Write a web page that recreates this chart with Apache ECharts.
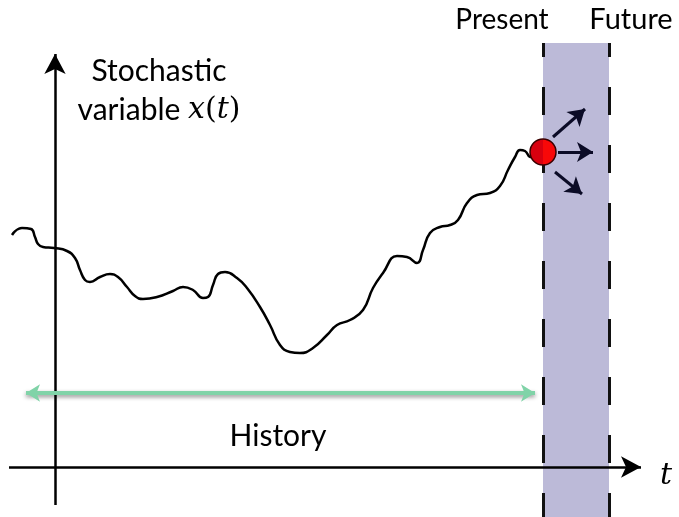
<!DOCTYPE html>
<html><head><meta charset="utf-8">
<script src="https://cdn.jsdelivr.net/npm/echarts@6/dist/echarts.min.js"></script>
<style>html,body{margin:0;padding:0;background:#fff}#c{width:679px;height:517px}</style>
</head><body><div id="c"></div>
<script>
const pathT = [-8.6,-6.6,-4.8,-4.0,-3.4,-2.4,-0.2,2.4,4,5,6,7,9,11,12.6,14.4,16,17.6,20.4,23.6,25.6,27.6,29.6,30.6,31.6,32.6,34,36.4,38.4,41,43,45,47,49,51.6,54.4,56.4,59,61.6,63.6,65.6,68.4,70.4,72.4,73.6,75,77,79,80.6,82.4,84.4,87,89,90.6,92,93,94,95,96];
// value of the stochastic variable along the path
const pathX = [46.4,47.8,47.6,46.0,44.6,44.0,43.8,43.2,41.8,39.4,37.4,37,38,38.6,38,36,34.2,33.6,34,35.2,36,35.4,33.8,34,36.4,38.6,39,37.8,35.8,32,28.4,24.4,23,22.8,23.8,26.4,28.4,29.4,31.4,35.8,38.8,42.2,42,40.8,43.4,46.8,48,48.4,49.4,52.8,54.4,54.8,56.2,59.4,62,63.4,63.2,62,61.8];
// present / future window
const presentT = 97.6;
const futureT = 110.8;
const windowTop = 84.8;
const presentX = 63;
// possible next moves (start and end of each arrow)
const fanFromT = [99.6, 100.6, 100];
const fanFromX = [66, 63, 59];
const fanToT = [106.0, 107.6, 105.4];
const fanToX = [71.6, 63, 54.6];
// history span
const historySpan = [-5.8, 96];
const historyLevel = 14.8;
// axes extents
const tAxisSpan = [-9.2, 117.2];
const xAxisSpan = [-7.6, 82.6];
// texts
const yTitle1 = 'Stochastic';
const yTitle2 = 'variable ';
const presentLabel = 'Present';
const futureLabel = 'Future';
const historyLabel = 'History';
const tLabel = 't';

const chart = echarts.init(document.getElementById('c'), null, {renderer: 'canvas'});
const curve = pathT.map((t, i) => [t, pathX[i]]);
const fans = fanFromT.map((t, i) => [{coord: [t, fanFromX[i]]}, {coord: [fanToT[i], fanToX[i]]}]);
const hidden = {type: 'line', data: [[presentT, -10]], showSymbol: false, lineStyle: {opacity: 0}, silent: true};
const ML = (o) => Object.assign({silent: true, label: {show: false}, emphasis: {disabled: true}, animation: false}, o);

const sans = 'Lato';
const option = {
  animation: false,
  grid: {left: 0, right: 0, top: 0, bottom: 0},
  xAxis: {type: 'value', min: -11, max: 124.8, show: false},
  yAxis: {type: 'value', min: -10, max: 93.4, show: false},
  series: [
    Object.assign({}, hidden, {z: 1, markArea: {silent: true, itemStyle: {color: '#bcbad8'},
      data: [[{coord: [presentT, windowTop]}, {coord: [futureT, -10]}]]}}),
    Object.assign({}, hidden, {z: 2, markLine: ML({symbol: 'none',
      lineStyle: {color: '#111', width: 3, type: [28, 30], dashOffset: 14},
      data: [[{coord: [presentT, windowTop]}, {coord: [presentT, -10]}],
             [{coord: [futureT, windowTop]}, {coord: [futureT, -10]}]]})}),
    Object.assign({}, hidden, {z: 3, markLine: ML({symbol: ['none', 'arrow'], symbolSize: [16, 20],
      lineStyle: {color: '#000', width: 2.5, type: 'solid'},
      data: [[{coord: [tAxisSpan[0], 0]}, {coord: [tAxisSpan[1], 0]}],
             [{coord: [0, xAxisSpan[0]]}, {coord: [0, xAxisSpan[1]]}]]})}),
    Object.assign({}, hidden, {z: 3, markLine: ML({symbol: ['arrow', 'arrow'], symbolSize: [13, 14],
      lineStyle: {color: '#80d3a8', width: 4, type: 'solid', shadowColor: 'rgba(0,0,0,0.45)', shadowBlur: 4, shadowOffsetY: 2},
      data: [[{coord: [historySpan[0], historyLevel]}, {coord: [historySpan[1], historyLevel]}]]})}),
    Object.assign({}, hidden, {z: 6, markLine: ML({symbol: ['none', 'arrow'], symbolSize: [15, 16],
      lineStyle: {color: '#0b0b26', width: 3, type: 'solid'},
      data: fans})}),
    {type: 'line', data: curve, smooth: 0.5, showSymbol: false, silent: true, z: 5,
      lineStyle: {color: '#000', width: 2.5}},
    {type: 'scatter', data: [[presentT, presentX]], symbolSize: 26, silent: true, z: 10,
      itemStyle: {borderColor: '#3a0000', borderWidth: 1.5, opacity: 1,
        color: {type: 'linear', x: 0, y: 0, x2: 1, y2: 0, colorStops: [
          {offset: 0, color: '#d8000f'}, {offset: 0.5, color: '#d8000f'},
          {offset: 0.5, color: '#f80808'}, {offset: 1, color: '#f80808'}]}}}
  ],
  graphic: [
    {type: 'text', style: {x: 159, y: 71, text: yTitle1, align: 'center', verticalAlign: 'middle', font: '30px ' + sans, fill: '#000'}},
    {type: 'text', style: {x: 159, y: 110, text: yTitle2 + '{i|x}{p|(}{i|t}{p|)}', align: 'center', verticalAlign: 'middle', font: '30px ' + sans, fill: '#000',
      rich: {i: {fontFamily: 'DejaVu Serif', fontStyle: 'italic', fontSize: 30, fill: '#000'}, p: {fontFamily: 'DejaVu Serif', fontSize: 30, fill: '#000'}}}},
    {type: 'text', style: {x: 502, y: 20, text: presentLabel, align: 'center', verticalAlign: 'middle', font: '28px ' + sans, fill: '#000'}},
    {type: 'text', style: {x: 631, y: 20, text: futureLabel, align: 'center', verticalAlign: 'middle', font: '29px ' + sans, fill: '#000'}},
    {type: 'text', style: {x: 278, y: 436, text: historyLabel, align: 'center', verticalAlign: 'middle', font: '30px ' + sans, fill: '#000'}},
    {type: 'text', style: {x: 666, y: 476, text: tLabel, align: 'center', verticalAlign: 'middle', font: 'italic 30px "DejaVu Serif"', fill: '#000'}}
  ]
};
chart.setOption(option);
</script></body></html>
